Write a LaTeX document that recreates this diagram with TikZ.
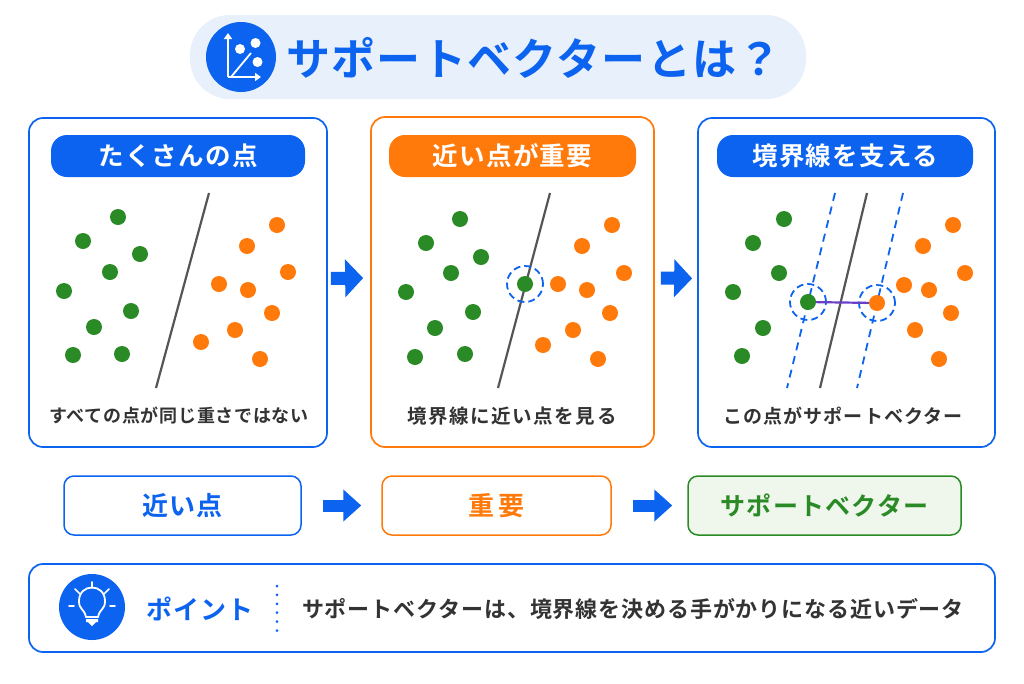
\documentclass[tikz,border=0pt]{standalone}
\usepackage{fontspec}
\setmainfont{Noto Sans CJK JP Medium}[BoldFont={Noto Sans CJK JP Bold}]
\usetikzlibrary{arrows.meta,calc,positioning}
\definecolor{svblue}{HTML}{0B63F0}
\definecolor{svorange}{HTML}{FF7A0A}
\definecolor{svgreen}{HTML}{2A8A26}
\definecolor{svgrey}{HTML}{555555}
\definecolor{titlebg}{HTML}{E8F0FC}
\definecolor{greenbg}{HTML}{EFF6EC}
\definecolor{svpurple}{HTML}{6A3FC8}
\newcommand{\jpfont}[2]{\fontsize{#1}{#1}\selectfont\addfontfeature{LetterSpace=#2}}
\tikzset{
	panel/.style={draw=#1,line width=1.7pt,rounded corners=14pt,fill=white},
	pill/.style={fill=#1,rounded corners=16pt,text=white,inner sep=0pt,font=\bfseries\jpfont{25.5}{5}},
	caption/.style={text=black!80,inner sep=0pt},
	rowbox/.style={draw=#1,text=#1,line width=1.5pt,rounded corners=10pt,inner sep=0pt,minimum height=59pt},
	greendot/.style={circle,fill=svgreen,minimum size=16pt,inner sep=0pt},
	orangedot/.style={circle,fill=svorange,minimum size=16pt,inner sep=0pt},
	ring/.style={circle,draw=svblue,line width=1.8pt,dash pattern=on 7pt off 4pt,minimum size=36pt,inner sep=0pt},
	boundary/.style={svgrey,line width=2.2pt},
	margin/.style={svblue,line width=1.8pt,dash pattern=on 8pt off 6pt},
	flow/.style={svblue,line width=13pt,-{Triangle[length=18pt,width=37pt]}},
	rowflow/.style={svblue,line width=12pt,-{Triangle[length=18pt,width=31pt]}},
	whitearrow/.style={white,line width=1.8pt,-{Triangle[length=6pt,width=8pt]}},
	ray/.style={white,line width=1.6pt,line cap=round},
}
\begin{document}
\begin{tikzpicture}[x=1pt,y=-1pt]
	\useasboundingbox (0,0) rectangle (1024,683);

	% Title
	\node[fill=titlebg,rounded corners=40pt,minimum width=616pt,minimum height=84pt,inner sep=0pt] (titlebar) at (498,57) {};
	\node[circle,fill=svblue,minimum size=70pt,inner sep=0pt] (titleicon) at (241,57) {};
	\node[text=svblue,inner sep=0pt,font=\bfseries\jpfont{44}{3}] (titletext) at (534,58) {サポートベクターとは？};
	\coordinate (axiso) at (228,77);
	\draw[whitearrow] (axiso) -- (228,33);
	\draw[whitearrow] (axiso) -- (261,77);
	\draw[white,line width=1.8pt] (231,77) -- (251,53);
	\foreach \x/\y in {240/49, 255.5/43, 257.5/62} {
		\fill[white] (\x,\y) circle (5);
	}

	% Panels
	\node[panel=svblue,minimum width=298pt,minimum height=329pt] (panelA) at (178,282.5) {};
	\node[panel=svorange,minimum width=283pt,minimum height=330pt] (panelB) at (512.5,282) {};
	\node[panel=svblue,minimum width=297pt,minimum height=329pt] (panelC) at (846.5,282.5) {};
	\node[pill=svblue,minimum width=254pt,minimum height=42pt] (pillA) at (178,156) {たくさんの点};
	\node[pill=svorange,minimum width=247pt,minimum height=42pt] (pillB) at (512.5,156) {近い点が重要};
	\node[pill=svblue,minimum width=256pt,minimum height=42pt] (pillC) at (845,156) {境界線を支える};
	\node[caption,font=\bfseries\jpfont{18}{4}] (capA) at (179,416) {すべての点が同じ重さではない};
	\node[caption,font=\bfseries\jpfont{19.5}{8}] (capB) at (512,416) {境界線に近い点を見る};
	\node[caption,font=\bfseries\jpfont{19}{6}] (capC) at (843,416) {この点がサポートベクター};
	\draw[flow,shorten <=3pt,shorten >=7pt] ([yshift=4pt]panelA.east) -- ([yshift=4pt]panelB.west);
	\draw[flow,shorten <=6pt,shorten >=5pt] ([yshift=4pt]panelB.east) -- ([yshift=4pt]panelC.west);

	% Panel A
	\draw[boundary] (209,193) -- (156,388);
	\foreach \x/\y [count=\i] in {118/217, 83/241, 140/254, 110/272, 64/291, 131/311, 94/327, 73/355, 122/354} {
		\node[greendot] (ga\i) at (\x,\y) {};
	}
	\foreach \x/\y [count=\i] in {277/225, 247/246, 288/272, 219/284, 248/290, 272/313, 235/330, 201/342, 260/359} {
		\node[orangedot] (oa\i) at (\x,\y) {};
	}

	% Panel B
	\draw[boundary] (550,193) -- (498,388);
	\foreach \x/\y [count=\i] in {460/219, 426/243, 481/257, 451/273, 406/292, 473/312, 435/328, 415/357, 465/354, 525/284} {
		\node[greendot] (gb\i) at (\x,\y) {};
	}
	\foreach \x/\y [count=\i] in {612/225, 582/246, 624/273, 558/284, 587/290, 610/313, 573/330, 543/345, 598/359} {
		\node[orangedot] (ob\i) at (\x,\y) {};
	}
	\node[ring] (ringb) at (gb10) {};

	% Panel C
	\draw[margin] (835,193) -- (787,388);
	\draw[margin] (903,193) -- (857,388);
	\draw[boundary] (867,193) -- (820,388);
	\foreach \x/\y [count=\i] in {784/219, 753/243, 779/273, 733/292, 763/328, 742/356} {
		\node[greendot] (gc\i) at (\x,\y) {};
	}
	\foreach \x/\y [count=\i] in {953/225, 923/246, 965/273, 904/285, 929/290, 951/313, 915/330, 939/359} {
		\node[orangedot] (oc\i) at (\x,\y) {};
	}
	\node[greendot] (gsup) at (808,302) {};
	\node[orangedot] (osup) at (877,303) {};
	\node[ring] (ringg) at (gsup) {};
	\node[ring] (ringo) at (osup) {};
	\draw[svpurple,line width=2.2pt] (gsup) -- (osup);

	% Middle row
	\node[rowbox=svblue,minimum width=237pt,font=\bfseries\jpfont{26}{5}] (near) at (182.5,505.5) {近い点};
	\node[rowbox=svorange,minimum width=229pt,font=\bfseries\jpfont{26}{5}] (important) at (496.5,505.5) {重\hspace{4pt}要};
	\node[rowbox=svgreen,minimum width=273pt,fill=greenbg,font=\bfseries\jpfont{25}{5}] (support) at (824.5,505.5) {サポートベクター};
	\draw[rowflow,shorten <=21pt,shorten >=20pt] (near) -- (important);
	\draw[rowflow,shorten <=21pt,shorten >=15pt] (important) -- (support);

	% Point bar
	\node[panel=svblue,minimum width=966pt,minimum height=88pt] (pointbar) at (512,608) {};
	\node[circle,fill=svblue,minimum size=66pt,inner sep=0pt] (bulb) at (92,607) {};
	\draw[white,line width=1.8pt] (86,617) .. controls (84,608) and (79,610) .. (79,601) .. controls (79,583) and (105,583) .. (105,601) .. controls (105,610) and (100,608) .. (98,617) -- cycle;
	\fill[white] (86,619) -- (98,619) -- (98,622) -- (96,622) -- (92,626) -- (88,622) -- (86,622) -- cycle;
	\foreach \a/\b/\c/\d in {92/582/92/588, 75/589/79.5/593.5, 109/589/104.5/593.5, 69/606/74/606, 115/606/110/606} {
		\draw[ray] (\a,\b) -- (\c,\d);
	}
	\node[text=svblue,inner sep=0pt,font=\bfseries\jpfont{26}{4}] (pointlabel) at (200,609) {ポイント};
	\draw[svblue,line width=3pt,dash pattern=on 0pt off 8.9pt,line cap=round] (277,586) -- (277,631);
	\node[caption,font=\bfseries\jpfont{22}{4}] (pointtext) at (633,609) {サポートベクターは、境界線を決める手がかりになる近いデータ};
\end{tikzpicture}
\end{document}
